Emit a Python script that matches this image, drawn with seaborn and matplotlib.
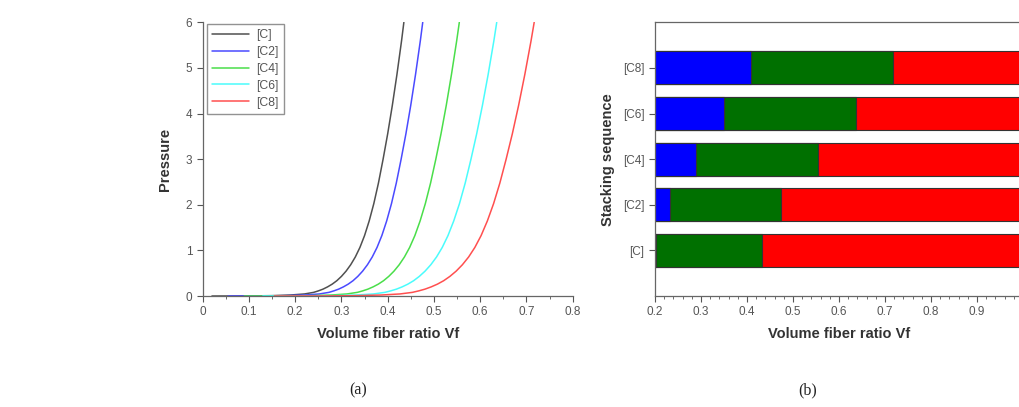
import numpy as np
import pandas as pd
import matplotlib
matplotlib.use("Agg")
import matplotlib.pyplot as plt
from matplotlib.ticker import MultipleLocator
import seaborn as sns

# ---- compaction curves: volume fiber ratio vs pressure ----
pressure = [0, 0.002, 0.008, 0.022, 0.045, 0.08, 0.112, 0.15, 0.2, 0.26,
            0.335, 0.43, 0.545, 0.685, 0.855, 1.065, 1.325, 1.645, 2.025, 2.475,
            2.995, 3.555, 4.175, 4.855, 5.595, 6.0]
vf_c = [0.02, 0.10, 0.15, 0.19, 0.22, 0.24, 0.25, 0.26, 0.27, 0.28,
        0.29, 0.30, 0.31, 0.32, 0.33, 0.34, 0.35, 0.36, 0.37, 0.38,
        0.39, 0.40, 0.41, 0.42, 0.43, 0.435]
vf_c2 = [0.055, 0.1274, 0.1794, 0.221, 0.2522, 0.273, 0.2834, 0.2938, 0.3042, 0.3146,
         0.325, 0.3354, 0.3458, 0.3562, 0.3666, 0.377, 0.3874, 0.3978, 0.4082, 0.4186,
         0.429, 0.4394, 0.4498, 0.4602, 0.4706, 0.4758]
vf_c4 = [0.09, 0.1763, 0.2328, 0.278, 0.3119, 0.3345, 0.3458, 0.3571, 0.3684, 0.3797,
         0.391, 0.4023, 0.4136, 0.4249, 0.4362, 0.4475, 0.4588, 0.4701, 0.4814, 0.4927,
         0.504, 0.5153, 0.5266, 0.5379, 0.5492, 0.5549]
vf_c6 = [0.13, 0.2204, 0.2824, 0.332, 0.3692, 0.394, 0.4064, 0.4188, 0.4312, 0.4436,
         0.456, 0.4684, 0.4808, 0.4932, 0.5056, 0.518, 0.5304, 0.5428, 0.5552, 0.5676,
         0.58, 0.5924, 0.6048, 0.6172, 0.6296, 0.6358]
vf_c8 = [0.155, 0.2645, 0.332, 0.386, 0.4265, 0.4535, 0.467, 0.4805, 0.494, 0.5075,
         0.521, 0.5345, 0.548, 0.5615, 0.575, 0.5885, 0.602, 0.6155, 0.629, 0.6425,
         0.656, 0.6695, 0.683, 0.6965, 0.71, 0.7168]

series_names = ["[C]", "[C2]", "[C4]", "[C6]", "[C8]"]
series_vf = [vf_c, vf_c2, vf_c4, vf_c6, vf_c8]
line_colors = ["#505050", "#4a4aff", "#4ade4a", "#4afcfc", "#ff4f4f"]

# ---- stacking sequence bars (boundaries on the Vf axis) ----
stack_labels = ["[C8]", "[C6]", "[C4]", "[C2]", "[C]"]
blue_end = [0.409, 0.349, 0.290, 0.233, 0.203]
green_end = [0.717, 0.637, 0.554, 0.473, 0.433]
red_end = [1.0, 1.0, 1.0, 1.0, 1.0]

sns.set_style("ticks")
plt.rcParams["font.family"] = ["Liberation Sans", "DejaVu Sans"]

fig = plt.figure(figsize=(10.19, 4.07), dpi=100)
ax1 = fig.add_axes([0.1989, 0.2727, 0.3631, 0.6725])
ax2 = fig.add_axes([0.6428, 0.2727, 0.3612, 0.6725])

tick_color = "#555555"
spine_color = "#666666"

# left panel
for name, vf, col in zip(series_names, series_vf, line_colors):
    df = pd.DataFrame({"Vf": vf, "P": pressure})
    sns.lineplot(data=df, x="Vf", y="P", color=col, linewidth=1.1,
                 label=name, sort=False, estimator=None, ax=ax1)

ax1.set_xlim(0, 0.8)
ax1.set_ylim(0, 6)
ax1.xaxis.set_major_locator(MultipleLocator(0.1))
ax1.xaxis.set_minor_locator(MultipleLocator(0.05))
ax1.yaxis.set_major_locator(MultipleLocator(1))
ax1.set_xticklabels([f"{v:g}" for v in ax1.get_xticks()])
sns.despine(ax=ax1)
ax1.set_xlabel("Volume fiber ratio Vf", fontsize=10.5, fontweight="bold", color="#333333", labelpad=6)
ax1.set_ylabel("Pressure", fontsize=10.5, fontweight="bold", color="#333333", labelpad=10)
leg = ax1.legend(loc="upper left", fancybox=False, edgecolor="#777777", fontsize=8.8,
                 handlelength=3.0, handletextpad=0.6, borderpad=0.45, labelspacing=0.4,
                 borderaxespad=0.1, bbox_to_anchor=(0.008, 1.0))
for t in leg.get_texts():
    t.set_color(tick_color)

# right panel: overlapping bars drawn from widest to narrowest
bar_kw = dict(orient="h", width=0.72, saturation=1, edgecolor="#333333",
              linewidth=0.8, ax=ax2)
sns.barplot(x=red_end, y=stack_labels, color="#ff0000", **bar_kw)
sns.barplot(x=green_end, y=stack_labels, color="#007000", **bar_kw)
sns.barplot(x=blue_end, y=stack_labels, color="#0000ff", **bar_kw)

ax2.set_xlim(0.2, 1.0)
ax2.set_ylim(5, -1)
ax2.xaxis.set_minor_locator(MultipleLocator(0.02))
ax2.set_xticks([0.2, 0.3, 0.4, 0.5, 0.6, 0.7, 0.8, 0.9])
ax2.set_xticklabels(["0.2", "0.3", "0.4", "0.5", "0.6", "0.7", "0.8", "0.9"])
ax2.set_xlabel("Volume fiber ratio Vf", fontsize=10.5, fontweight="bold", color="#333333", labelpad=6)
ax2.set_ylabel("Stacking sequence", fontsize=10.5, fontweight="bold", color="#333333", labelpad=6)

for ax in (ax1, ax2):
    ax.tick_params(axis="both", which="major", labelsize=8.5, colors=tick_color,
                   length=4, width=0.8, direction="out")
    ax.tick_params(axis="both", which="minor", length=2, width=0.6, colors=tick_color)
    for sp in ax.spines.values():
        sp.set_color(spine_color)
        sp.set_linewidth(0.9)

fig.text(0.351, 0.03, "(a)", family="Liberation Serif", fontsize=11.5, ha="center", color="#222222")
fig.text(0.793, 0.03, "(b)", family="Liberation Serif", fontsize=11.5, ha="center", color="#222222")

fig.savefig("out.png", dpi=100, facecolor="white")
